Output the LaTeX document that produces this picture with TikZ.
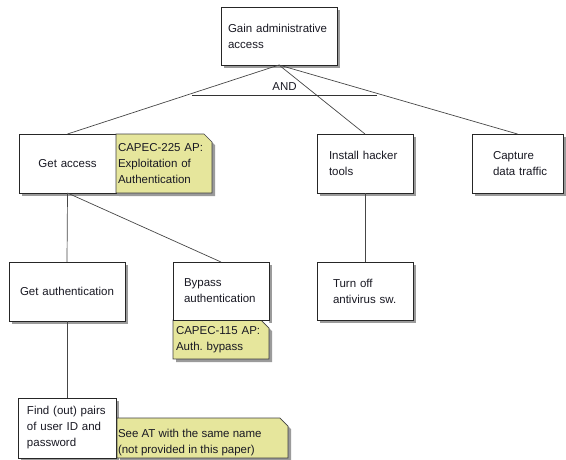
\documentclass[tikz,border=0pt]{standalone}
\usepackage{fontspec}
\setmainfont{Liberation Sans}
\usetikzlibrary{calc}
\definecolor{notefill}{RGB}{230,230,156}
\definecolor{shadowgray}{RGB}{155,155,155}
\definecolor{linegray}{RGB}{70,70,70}
\definecolor{txt}{RGB}{25,25,35}
\pgfdeclarelayer{shadowlayer}
\pgfsetlayers{shadowlayer,main}
\newcommand\notecorner[1]{%
  \fill[white] ($(#1.north east)+(-8,0)$) -- (#1.north east) -- ($(#1.north east)+(0,8)$) -- cycle;
  \draw[noteline] (#1.north west) -- ($(#1.north east)+(-8,0)$) -- ($(#1.north east)+(0,8)$) -- (#1.south east) -- (#1.south west) -- cycle;}
\newcommand\noteshadow[1]{%
  \fill[shadowgray] ($(#1.north west)+(3,3)$) -- ($(#1.north east)+(-5,3)$) -- ($(#1.north east)+(3,11)$) -- ($(#1.south east)+(3,3)$) -- ($(#1.south west)+(3,3)$) -- cycle;}
\newcommand\boxshadow[1]{%
  \fill[shadowgray] ($(#1.south west)+(3,3)$) rectangle ($(#1.north east)+(3,3)$);}
\begin{document}
\frenchspacing
\hyphenpenalty=10000
\begin{tikzpicture}[x=1pt,y=-1pt,
  every node/.style={font=\fontsize{11.5}{16}\selectfont, text=txt, outer sep=0pt},
  box/.style={draw=black!85, line width=0.7pt, fill=white, inner ysep=0pt},
  note/.style={fill=notefill, inner ysep=0pt, align=left},
  noteline/.style={draw=black!75, line width=0.7pt},
  conn/.style={draw=linegray, line width=0.7pt},
]
\useasboundingbox (0,0) rectangle (566,459);

% boxes
\node[box, minimum height=58pt, text width=102pt, inner xsep=7pt, align=left] (gain) at (279,36) {Gain administrative\\access};
\node[box, minimum height=59pt, text width=89pt, inner xsep=4pt, align=center] (ga) at (67.5,163.5) {Get access};
\node[note, minimum height=59pt, text width=92pt, inner xsep=2pt] (n225) at (164,163.5) {CAPEC-225 AP:\\Exploitation of\\Authentication};
\notecorner{n225}
\node[box, minimum height=59pt, text width=72pt, inner xsep=12pt, align=left] (iht) at (365,163.5) {Install hacker\\tools};
\node[box, minimum height=59pt, text width=49pt, inner xsep=21pt, align=left] (cap) at (517.5,163.5) {Capture\\data~traffic};
\node[box, minimum height=59pt, text width=108pt, inner xsep=4pt, align=center] (gau) at (67,291.5) {Get authentication};
\node[note, minimum height=39pt, text width=90pt, inner xsep=3pt] (n115) at (221,339.5) {CAPEC-115 AP:\\Auth. bypass};
\notecorner{n115}
\node[box, minimum height=58pt, text width=74pt, inner xsep=11pt, align=left] (byp) at (221,291) {Bypass\\authentication};
\node[box, minimum height=58pt, text width=64pt, inner xsep=16pt, align=left] (toa) at (365,291) {Turn off\\antivirus sw.};
\node[box, minimum height=60pt, text width=80pt, inner xsep=9pt, align=left] (find) at (67,428) {Find (out) pairs\\of user ID and\\password};
\node[note, minimum width=171pt, minimum height=40pt, inner sep=0pt] (nsee) at (202.5,438) {};
\notecorner{nsee}
\node[anchor=base west, inner sep=0pt, align=left] (nseetext) at (118,453) {See AT with the same name\\(not provided in this paper)};

% shadows
\begin{pgfonlayer}{shadowlayer}
  \boxshadow{gain}\boxshadow{ga}\boxshadow{iht}\boxshadow{cap}
  \boxshadow{gau}\boxshadow{byp}\boxshadow{toa}\boxshadow{find}
  \noteshadow{n225}\noteshadow{n115}\noteshadow{nsee}
\end{pgfonlayer}

% connectors
\draw[conn] (gain.south) -- (ga.north);
\draw[conn] (gain.south) -- (iht.north);
\draw[conn] (gain.south) -- (cap.north);
\coordinate (andL) at (192,95);
\coordinate (andR) at (377,95);
\draw[conn, draw=black!80] (andL) -- (andR) node[midway, above=4pt, inner sep=1pt] (and) {AND};
\draw[conn] (ga.south) -- (gau.north);
\draw[conn] (ga.south) -- (byp.north);
\draw[conn] (iht.south) -- (toa.north);
\draw[conn] (gau.south) -- (find.north);
\end{tikzpicture}
\end{document}
